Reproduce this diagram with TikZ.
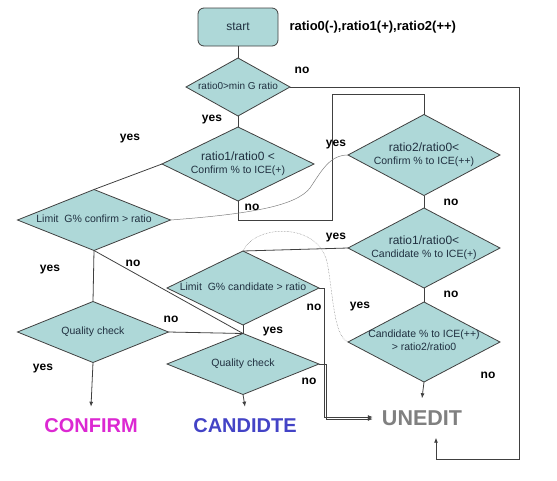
\documentclass[tikz,border=0pt]{standalone}
\usepackage{fontspec}
\setmainfont{Liberation Sans}
\usetikzlibrary{arrows.meta,shapes.geometric}
\definecolor{diafill}{HTML}{AED8D8}
\definecolor{linegray}{HTML}{404040}
\definecolor{diatext}{HTML}{203040}
\definecolor{confirmc}{HTML}{DC28D2}
\definecolor{candc}{HTML}{4343C6}
\definecolor{unedc}{HTML}{808080}
\newcommand{\fs}[1]{\fontsize{#1}{#1}\selectfont}
\newcommand{\dtxt}[1]{\makebox[0pt]{\begin{tabular}{@{}c@{}}#1\end{tabular}}}

\begin{document}
\begin{tikzpicture}[x=1pt, y=-1pt,
  line/.style={draw=linegray, line width=0.8pt},
  arr/.style={line, -{Latex[length=5pt,width=4pt]}},
  dia/.style={diamond, draw=linegray, line width=0.8pt, fill=diafill, inner sep=0pt, outer sep=0pt, text=diatext, font=\fs{10.5}},
  lab/.style={font=\fs{12}\bfseries},
  outc/.style={font=\fs{20}\bfseries, inner xsep=9pt, inner ysep=12pt},
  curve/.style={draw=gray, line width=0.5pt},
  dcurve/.style={curve, densely dotted}]
  \useasboundingbox (0,0) rectangle (557,480);
  % start and the first test
  \node[rounded corners=6pt, draw=linegray, line width=0.8pt, fill=diafill, minimum width=80, minimum height=38, text=diatext, font=\fs{12}] (start) at (238,27) {start};
  \node[anchor=west, font=\fs{13}\bfseries] (ttl) at (286,27) {ratio0(-),ratio1(+),ratio2(++)};
  \node[dia, minimum width=104, minimum height=58, font=\fs{10}] (d1) at (238,87) {\dtxt{ratio0>min G ratio}};
  % left column
  \node[dia, minimum width=152, minimum height=74] (d2) at (238,164) {\dtxt{\raisebox{5pt}{\begin{tabular}{@{}c@{}}{\fs{12}ratio1/ratio0 <}\\[2pt] Confirm \% to ICE(+)\end{tabular}}}};
  \node[dia, minimum width=153, minimum height=61] (dlf) at (94,220) {\dtxt{Limit\ \ G\% confirm > ratio}};
  \node[dia, minimum width=151, minimum height=61] (qc1) at (93,332) {\dtxt{Quality check}};
  \node[dia, minimum width=152, minimum height=74] (dlc) at (243,288) {\dtxt{Limit\ \ G\% candidate > ratio}};
  \node[dia, minimum width=152, minimum height=61] (qc2) at (243,364) {\dtxt{Quality check}};
  % right column
  \node[dia, minimum width=152, minimum height=81] (d3) at (424,155) {\dtxt{{\fs{12}ratio2/ratio0<}\\[2pt] Confirm \% to ICE(++)}};
  \node[dia, minimum width=152, minimum height=80] (d4) at (424,248) {\dtxt{{\fs{12}ratio1/ratio0<}\\[2pt] Candidate \% to ICE(+)}};
  \node[dia, minimum width=152, minimum height=80] (d5) at (424,342) {\dtxt{Candidate \% to ICE(++)\\[2pt] > ratio2/ratio0}};
  % results
  \node[outc, text=confirmc] (confirm) at (91,426) {CONFIRM};
  \node[outc, text=candc] (candidte) at (245,426) {CANDIDTE};
  \node[outc, text=unedc, font=\fs{21.5}\bfseries] (unedit) at (422,418) {UNEDIT};
  % connectors
  \draw[line] (start) -- (d1);
  \draw[arr] (d1.east) -| (519,459) -| ([xshift=14pt]unedit.south);
  \draw[line] (d1.south) -- (d2.north);
  \draw[line] (d2.west) -- (dlf.north);
  \draw[line] (d2.south) |- (332,220) -- (332,94) -| (d3.north);
  \draw[curve] (dlf.east) .. controls (250,214) and (296,206) .. (310,188) .. controls (322,170) and (330,155) .. (d3.west);
  \draw[line] (dlf.south) -- (qc1.north);
  \draw[line] (dlf.south) -- (qc2.north);
  \draw[line] (qc1.east) -- (qc2.north);
  \draw[arr] (qc1.south) -- (confirm.north);
  \draw[line] (dlc.south) -- (qc2.north);
  \draw[arr] (qc2.south) -- (candidte.north);
  \draw[arr] (dlc.east) -- ++(5,0) |- ([yshift=1pt]unedit.west);
  \draw[arr] (qc2.east) -- ++(7,0) |- ([yshift=-1pt]unedit.west);
  \draw[line] (d3.south) -- (d4.north);
  \draw[line] (d4.west) -- (dlc.north);
  \draw[dcurve] (dlc.north) .. controls (255,224) and (318,222) .. (327,262) .. controls (333,290) and (333,336) .. (d5.west);
  \draw[line] (d4.south) -- (d5.north);
  \draw[arr] (d5.south) -- (unedit.north);
  % yes / no
  \node[lab] (n1) at (302,70) {no};
  \node[lab] (y1) at (212,120) {yes};
  \node[lab] (y2) at (130,139) {yes};
  \node[lab] (n2) at (252,207) {no};
  \node[lab] (y3) at (336,145) {yes};
  \node[lab] (n3) at (451,202) {no};
  \node[lab] (y4) at (336,238) {yes};
  \node[lab] (y5) at (50,270) {yes};
  \node[lab] (n5) at (133,263) {no};
  \node[lab] (n6) at (171,319) {no};
  \node[lab] (y6) at (43,369) {yes};
  \node[lab] (n7) at (314,307) {no};
  \node[lab] (y7) at (273,332) {yes};
  \node[lab] (n8) at (309,381) {no};
  \node[lab] (n9) at (451,294) {no};
  \node[lab] (y8) at (360,307) {yes};
  \node[lab] (n10) at (488,375) {no};
\end{tikzpicture}
\end{document}
